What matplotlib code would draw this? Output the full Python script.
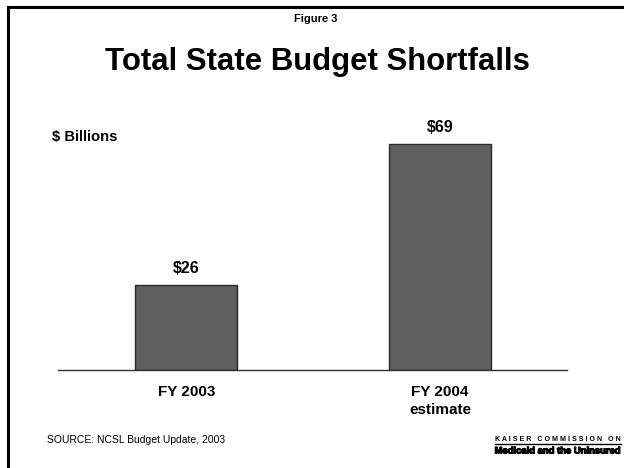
import matplotlib
matplotlib.use("Agg")
import matplotlib.pyplot as plt
import matplotlib.patheffects as pe
from matplotlib.lines import Line2D

plt.rcParams['font.family'] = ['Liberation Sans', 'DejaVu Sans']

categories = ["FY 2003", "FY 2004\nestimate"]
values = [26, 69]
value_labels = ["$26", "$69"]

W, H = 624, 468
fig = plt.figure(figsize=(W / 100, H / 100), dpi=100)

def fx(px):
    return px / W

def fy(py):
    return 1 - py / H

# frame lines along the top and left edges of the slide
fig.add_artist(Line2D([fx(8), fx(624)], [fy(6.5), fy(6.5)], color='black', lw=2.2))
fig.add_artist(Line2D([fx(8), fx(8)], [fy(6.5), fy(468)], color='black', lw=2.2))

# plotting area: baseline at y=370, 3.28 px per billion
base_px, top_px = 370, 130
ax = fig.add_axes([fx(58), fy(base_px), fx(567) - fx(58), (base_px - top_px) / H])
ymax = (base_px - top_px) / 3.28
ax.set_ylim(0, ymax)
ax.set_xlim(-0.505, 1.5)

x = range(len(values))
bars = ax.bar(x, values, width=0.4, color='#5f5f5f', edgecolor='#2a2a2a', linewidth=1.0)
for xi, v, lab in zip(x, values, value_labels):
    ax.annotate(lab, (xi, v), xytext=(0, 6), textcoords='offset points',
                ha='center', va='bottom', fontsize=11.5, fontweight='bold')

ax.set_xticks(list(x))
ax.set_xticklabels([])
ax.tick_params(axis='x', length=0)
ax.set_yticks([])
for s in ['top', 'right', 'left']:
    ax.spines[s].set_visible(False)
ax.spines['bottom'].set_color('#333333')
ax.spines['bottom'].set_linewidth(1.0)

# category labels under each bar
for xi, cat in zip(x, categories):
    lines = cat.split("\n")
    ax.annotate(lines[0], (xi, 0), xytext=(0, -10.5), textcoords='offset points',
                ha='center', va='top', fontsize=11, fontweight='bold')
    if len(lines) > 1:
        ax.annotate(lines[1], (xi, 0), xytext=(0, -23.5), textcoords='offset points',
                    ha='center', va='top', fontsize=11, fontweight='bold')

fig.text(fx(316), fy(21.5), "Figure 3", ha='center', va='baseline', fontsize=8, fontweight='bold')
fig.text(fx(317), fy(70), "Total State Budget Shortfalls", ha='center', va='baseline',
         fontsize=22.4, fontweight='bold')
fig.text(fx(52), fy(141), "$ Billions", ha='left', va='baseline', fontsize=10.6, fontweight='bold')
fig.text(fx(47), fy(440), "SOURCE: NCSL Budget Update, 2003", ha='left', va='center', fontsize=7.5)

# organisation mark in the lower right
fig.text(fx(558), fy(439.5), "K A I S E R   C O M M I S S I O N   O N", ha='center', va='center',
         fontsize=5.1, fontweight='bold')
fig.add_artist(Line2D([fx(495), fx(621)], [fy(444), fy(444)], color='black', lw=1.0))
fig.text(fx(558), fy(451), "Medicaid and the Uninsured", ha='center', va='center',
         fontsize=6.8, fontweight='heavy',
         path_effects=[pe.withStroke(linewidth=0.8, foreground='black')])

fig.savefig("out.png", dpi=100)
